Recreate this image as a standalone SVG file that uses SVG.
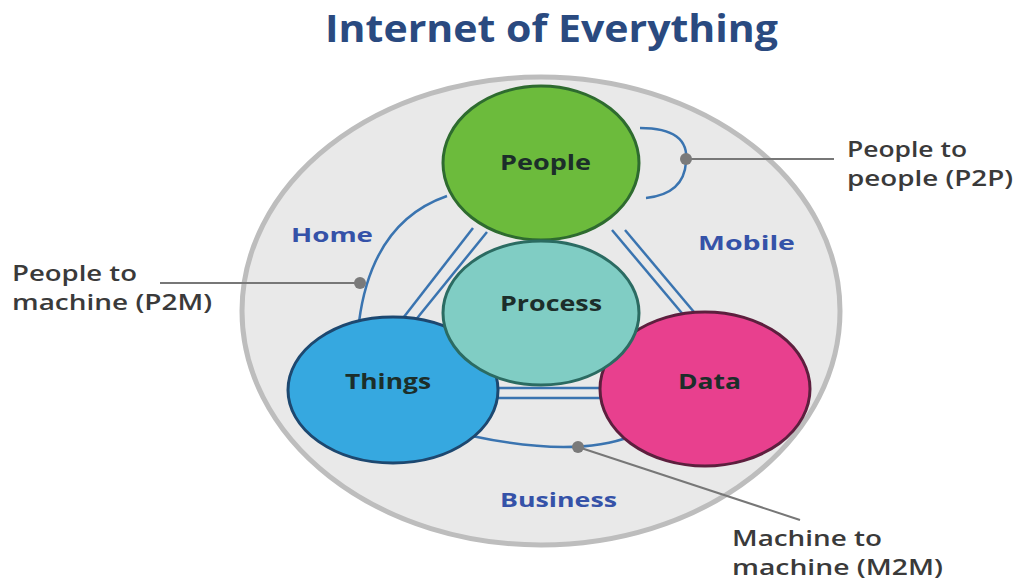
<svg xmlns="http://www.w3.org/2000/svg" width="1023" height="581" viewBox="0 0 1023 581">
<style>
.t{font-family:"Open Sans","Liberation Sans",sans-serif;font-weight:bold;}
.node{font-family:"Open Sans","Liberation Sans",sans-serif;font-weight:bold;font-size:21px;fill:#1c2e2a;}
.ctx{font-family:"Open Sans","Liberation Sans",sans-serif;font-weight:bold;font-size:20px;fill:#3552a8;}
.lab{font-family:"Open Sans","Liberation Sans",sans-serif;font-weight:600;font-size:21px;fill:#3a3a3a;}
.conn{fill:none;stroke:#3a74b0;stroke-width:2.5;}
.lead{fill:none;stroke:#777;stroke-width:2;}
.dot{fill:#7a7a7a;}
</style>
<rect width="1023" height="581" fill="#ffffff"/>
<text class="t" x="325" y="42" font-size="37" fill="#2a4a80" textLength="453" lengthAdjust="spacingAndGlyphs">Internet of Everything</text>
<g id="background">
<ellipse cx="541" cy="311" rx="299" ry="234" fill="#e9e9e9" stroke="#bdbdbd" stroke-width="5"/>
</g>
<g id="connectors">
<line class="conn" x1="473" y1="228" x2="400" y2="322"/>
<line class="conn" x1="487" y1="232" x2="414" y2="322"/>
<line class="conn" x1="612" y1="230" x2="686" y2="318"/>
<line class="conn" x1="625" y1="230" x2="699" y2="318"/>
<line class="conn" x1="490" y1="388" x2="610" y2="388"/>
<line class="conn" x1="490" y1="398" x2="610" y2="398"/>
<path class="conn" d="M447,196 Q372,222 359,322"/>
<path class="conn" d="M640,128 Q690,128 686,162 Q684,194 646,198"/>
<path class="conn" d="M472,436 Q575,458 632,436"/>
<line class="lead" x1="160" y1="283" x2="360" y2="283"/>
<line class="lead" x1="686" y1="159" x2="834" y2="159"/>
<line class="lead" x1="578" y1="447" x2="800" y2="520"/>
<circle class="dot" cx="360" cy="283" r="6"/>
<circle class="dot" cx="686" cy="159" r="6"/>
<circle class="dot" cx="578" cy="447" r="6"/>
</g>
<g id="people">
<ellipse cx="541" cy="163" rx="98" ry="77" fill="#6cbb3c" stroke="#2e6b2f" stroke-width="3"/>
<text class="node" x="500" y="170" textLength="91" lengthAdjust="spacingAndGlyphs">People</text>
</g>
<g id="things">
<ellipse cx="393" cy="390" rx="105" ry="73" fill="#36a8e0" stroke="#1d4870" stroke-width="3"/>
<text class="node" x="345" y="389" textLength="86" lengthAdjust="spacingAndGlyphs">Things</text>
</g>
<g id="data">
<ellipse cx="705" cy="389" rx="105" ry="77" fill="#e8408e" stroke="#5d1f3e" stroke-width="3"/>
<text class="node" x="678" y="389" textLength="63" lengthAdjust="spacingAndGlyphs">Data</text>
</g>
<g id="process">
<ellipse cx="541" cy="313" rx="98" ry="72" fill="#80cdc4" stroke="#2b6b62" stroke-width="3"/>
<text class="node" x="500" y="311" textLength="102" lengthAdjust="spacingAndGlyphs">Process</text>
</g>
<g id="contexts">
<text class="ctx" x="291" y="242" textLength="82" lengthAdjust="spacingAndGlyphs">Home</text>
<text class="ctx" x="698" y="250" textLength="97" lengthAdjust="spacingAndGlyphs">Mobile</text>
<text class="ctx" x="500" y="507" textLength="117" lengthAdjust="spacingAndGlyphs">Business</text>
</g>
<g id="labels">
<text class="lab" x="847" y="157" textLength="120" lengthAdjust="spacingAndGlyphs">People to</text>
<text class="lab" x="847" y="186" textLength="166" lengthAdjust="spacingAndGlyphs">people (P2P)</text>
<text class="lab" x="12" y="281" textLength="125" lengthAdjust="spacingAndGlyphs">People to</text>
<text class="lab" x="12" y="310" textLength="200" lengthAdjust="spacingAndGlyphs">machine (P2M)</text>
<text class="lab" x="732" y="546" textLength="150" lengthAdjust="spacingAndGlyphs">Machine to</text>
<text class="lab" x="732" y="575" textLength="211" lengthAdjust="spacingAndGlyphs">machine (M2M)</text>
</g>
</svg>
